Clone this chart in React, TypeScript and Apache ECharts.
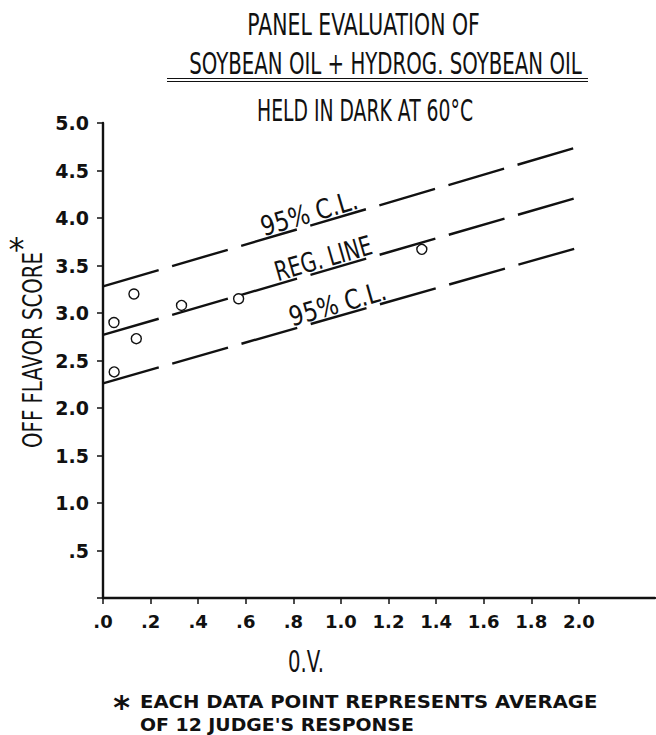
import React, { useEffect, useRef } from "react";
import * as echarts from "echarts";

// ---------- data ----------
const lineOV = [0, 2.0];
const upperCL = [3.28, 4.75];
const regLine = [2.77, 4.22];
const lowerCL = [2.26, 3.69];

const pointOV = [0.046, 0.13, 0.14, 0.047, 0.33, 0.57, 1.34];
const pointScore = [2.9, 3.2, 2.73, 2.38, 3.08, 3.15, 3.67];

const xTickValues = [0, 0.2, 0.4, 0.6, 0.8, 1.0, 1.2, 1.4, 1.6, 1.8, 2.0];
const yTickValues = [0, 0.5, 1.0, 1.5, 2.0, 2.5, 3.0, 3.5, 4.0, 4.5, 5.0];

const titleLines = [
  "PANEL EVALUATION OF",
  "SOYBEAN OIL + HYDROG. SOYBEAN OIL",
  "HELD IN DARK AT 60°C",
];
const yAxisTitle = "OFF FLAVOR SCORE";
const xAxisTitle = "0.V.";
const footnoteLines = ["EACH DATA POINT REPRESENTS AVERAGE", "OF 12 JUDGE'S RESPONSE"];

const lineLabelTexts = ["95% C.L.", "REG. LINE", "95% C.L."];
const lineLabelOV = [0.88, 0.94, 1.0];

const INK = "#111111";
const COND = "DejaVu Sans";

function measure(text: string, size: number, weight: string, family: string) {
  const c = document.createElement("canvas");
  const ctx = c.getContext("2d")!;
  ctx.font = `${weight} ${size}px "${family}"`;
  return ctx.measureText(text).width || 1;
}

function fitText(
  text: string,
  x: number,
  y: number,
  width: number,
  size: number,
  opts: { weight?: string; align?: string; rotation?: number } = {}
) {
  const weight = opts.weight || "normal";
  const w = measure(text, size, weight, COND);
  return {
    type: "text",
    x,
    y,
    rotation: opts.rotation || 0,
    scaleX: width / w,
    silent: true,
    style: {
      text,
      x: 0,
      y: 0,
      fontSize: size,
      fontFamily: COND,
      fontWeight: weight,
      fill: INK,
      textAlign: opts.align || "center",
      textVerticalAlign: "middle",
    },
  };
}

export default function App() {
  const ref = useRef<HTMLDivElement>(null);

  useEffect(() => {
    if (!ref.current) return;
    const chart = echarts.init(ref.current, null, { renderer: "svg" });

    const mkLine = (vals: number[]) => lineOV.map((x, i) => [x, vals[i]]);
    const dashed = {
      color: INK,
      width: 2.4,
      type: [58, 14] as number[],
    };

    chart.setOption({
      animation: false,
      grid: { left: 103, right: 1, top: 123, bottom: 137, containLabel: false },
      xAxis: {
        type: "value",
        min: 0,
        max: 2.32,
        interval: 0.2,
        splitLine: { show: false },
        axisLine: { show: true, lineStyle: { color: INK, width: 2.4 } },
        axisTick: {
          show: true,
          length: 6,
          lineStyle: { color: INK, width: 1.5 },
          customValues: xTickValues,
        },
        axisLabel: {
          customValues: xTickValues,
          margin: 14,
          color: INK,
          fontSize: 18,
          fontWeight: "bold",
          fontFamily: "DejaVu Sans",
          formatter: (v: number) => {
            if (v > 2.0001) return "";
            if (v < 0.999) return "." + Math.round(v * 10);
            return v.toFixed(1);
          },
        },
      },
      yAxis: {
        type: "value",
        min: 0,
        max: 5,
        interval: 0.5,
        splitLine: { show: false },
        axisLine: { show: true, lineStyle: { color: INK, width: 2.4 } },
        axisTick: {
          show: true,
          length: 6,
          lineStyle: { color: INK, width: 1.5 },
          customValues: yTickValues,
        },
        axisLabel: {
          customValues: yTickValues,
          margin: 14,
          color: INK,
          fontSize: 19,
          fontWeight: "bold",
          fontFamily: "DejaVu Sans",
          formatter: (v: number) => {
            if (v === 0) return "";
            if (v < 0.999) return "." + Math.round(v * 10);
            return v.toFixed(1);
          },
        },
      },
      series: [
        {
          name: "95% C.L. upper",
          type: "line",
          data: mkLine(upperCL),
          symbol: "none",
          lineStyle: dashed,
          z: 2,
        },
        {
          name: "REG. LINE",
          type: "line",
          data: mkLine(regLine),
          symbol: "none",
          lineStyle: dashed,
          z: 2,
        },
        {
          name: "95% C.L. lower",
          type: "line",
          data: mkLine(lowerCL),
          symbol: "none",
          lineStyle: dashed,
          z: 2,
        },
        {
          name: "points",
          type: "scatter",
          data: pointOV.map((x, i) => [x, pointScore[i]]),
          symbol: "circle",
          symbolSize: 10,
          itemStyle: { color: "#ffffff", borderColor: INK, borderWidth: 1.4, opacity: 1 },
          z: 5,
        },
      ],
    });

    // ---- texts ----
    const g: any[] = [];
    g.push(fitText(titleLines[0], 363.5, 24.5, 233, 30));
    g.push(fitText(titleLines[1], 385.5, 63, 393, 30));
    g.push(fitText(titleLines[2], 365, 110.5, 216, 31));
    g.push({
      type: "line",
      silent: true,
      shape: { x1: 167, y1: 78.5, x2: 588, y2: 78.5 },
      style: { stroke: INK, lineWidth: 1.2 },
    });
    g.push({
      type: "line",
      silent: true,
      shape: { x1: 167, y1: 81.5, x2: 588, y2: 81.5 },
      style: { stroke: INK, lineWidth: 1.2 },
    });

    // y axis title (rotated)
    g.push(fitText(yAxisTitle, 32.5, 350, 196, 26, { rotation: Math.PI / 2 }));
    g.push({
      type: "text",
      x: 16.5,
      y: 249,
      silent: true,
      style: {
        text: "*",
        x: 0,
        y: 0,
        fontSize: 32,
        fontFamily: "DejaVu Sans",
        fill: INK,
        textAlign: "center",
        textVerticalAlign: "middle",
      },
    });

    // x axis title
    g.push(fitText(xAxisTitle, 306, 661, 36, 30));

    // footnote
    g.push({
      type: "text",
      x: 121.5,
      y: 707,
      silent: true,
      style: {
        text: "*",
        x: 0,
        y: 0,
        fontSize: 32,
        fontWeight: "bold",
        fontFamily: "DejaVu Sans",
        fill: INK,
        textAlign: "center",
        textVerticalAlign: "middle",
      },
    });
    g.push(fitText(footnoteLines[0], 140, 701.5, 458, 18, { weight: "bold", align: "left" }));
    g.push(fitText(footnoteLines[1], 140, 725, 274, 18, { weight: "bold", align: "left" }));

    // labels along the lines
    const lines = [upperCL, regLine, lowerCL];
    lines.forEach((vals, i) => {
      const p0 = chart.convertToPixel({ gridIndex: 0 }, [lineOV[0], vals[0]]) as number[];
      const p1 = chart.convertToPixel({ gridIndex: 0 }, [lineOV[1], vals[1]]) as number[];
      const dx = p1[0] - p0[0];
      const dy = p1[1] - p0[1];
      const len = Math.sqrt(dx * dx + dy * dy);
      const ux = dx / len;
      const uy = dy / len;
      const nx = uy;
      const ny = -ux;
      const xv = lineLabelOV[i];
      const yv = vals[0] + ((vals[1] - vals[0]) * (xv - lineOV[0])) / (lineOV[1] - lineOV[0]);
      const p = chart.convertToPixel({ gridIndex: 0 }, [xv, yv]) as number[];
      const off = 12;
      const rot = Math.atan2(-dy, dx);
      g.push(fitText(lineLabelTexts[i], p[0] + nx * off, p[1] + ny * off, 100, 27, { rotation: rot }));
    });

    chart.setOption({ graphic: { elements: g } });

    return () => chart.dispose();
  }, []);

  return (
    <div
      ref={ref}
      style={{ position: "fixed", left: 0, top: 0, width: 656, height: 735, background: "#ffffff" }}
    />
  );
}
